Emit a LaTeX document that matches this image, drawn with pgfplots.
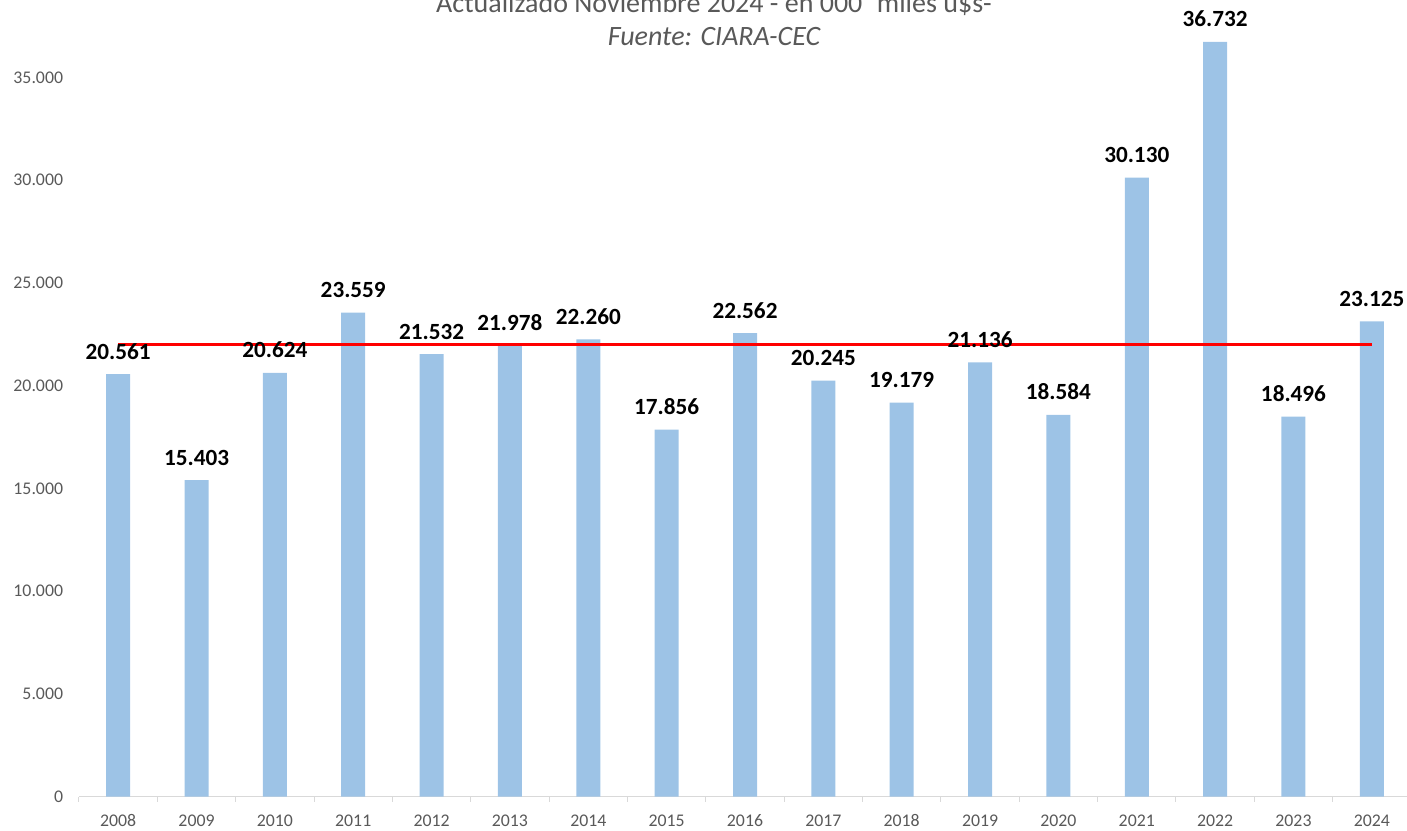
\documentclass[border=0pt]{standalone}
\usepackage{pgfplots}
\pgfplotsset{compat=1.18}
\usepackage{fontspec}
\setmainfont{Carlito}
\definecolor{barblue}{HTML}{9DC3E6}
\definecolor{axgray}{HTML}{D9D9D9}
\definecolor{txtgray}{HTML}{595959}

\pgfplotstableread{
x year value
0 2008 20561
1 2009 15403
2 2010 20624
3 2011 23559
4 2012 21532
5 2013 21978
6 2014 22260
7 2015 17856
8 2016 22562
9 2017 20245
10 2018 19179
11 2019 21136
12 2020 18584
13 2021 30130
14 2022 36732
15 2023 18496
16 2024 23125
}\exports

\begin{document}
\begin{tikzpicture}
\pgfkeys{/pgf/number format/.cd, assume math mode=true, 1000 sep={.}}
\begin{axis}[
  name=ax,
  scale only axis,
  width=666pt, height=398.25pt,
  xmin=-0.5, xmax=16.5, ymin=0, ymax=38777,
  ybar, bar width=12pt,
  axis x line*=bottom, axis y line*=left,
  x axis line style={draw=axgray, line width=0.5pt},
  y axis line style={draw=none},
  xtick={0,...,16},
  xticklabels={2008,2009,2010,2011,2012,2013,2014,2015,2016,2017,2018,2019,2020,2021,2022,2023,2024},
  major x tick style={draw=none},
  minor xtick={-0.5,0.5,...,16.5},
  minor x tick style={draw=axgray, line width=0.5pt},
  minor tick length=2.5pt,
  tick align=outside,
  ytick={0,5000,...,35000},
  major y tick style={draw=none},
  tick label style={font=\fontsize{8.9}{10}\selectfont, text=txtgray},
  xticklabel style={anchor=base, yshift=-10.5pt, inner sep=0pt},
  yticklabel style={anchor=east, inner sep=0pt, xshift=-3.5pt},
  scaled y ticks=false,
  clip=false,
]
\addplot[fill=barblue, draw=none, bar shift=0pt] table[x=x, y=value] {\exports};
\addplot[sharp plot, red, line width=1.5pt, mark=none] coordinates {(0,21998) (16,21998)};
\addplot[fill=none, draw=none, bar shift=0pt,
  nodes near coords,
  nodes near coords style={anchor=base, inner sep=0pt, yshift=7.5pt, text=black,
    font=\bfseries\fontsize{11.6}{13}\selectfont}]
  table[x=x, y=value] {\exports};
\end{axis}
\node[anchor=base, inner sep=0pt, text=txtgray, font=\fontsize{14}{16}\selectfont] at ([xshift=317.5pt, yshift=-6.5pt]ax.north west) {Actualizado Noviembre 2024 - en 000´ miles u\$s-};
\node[anchor=base, inner sep=0pt, text=txtgray, font=\itshape\fontsize{14}{16}\selectfont] at ([xshift=317.5pt, yshift=-23pt]ax.north west) {Fuente: CIARA-CEC};
\pgfresetboundingbox
\path[use as bounding box] ([xshift=-39.5pt, yshift=-16.75pt]ax.south west) rectangle ([xshift=664pt]ax.north west);
\end{tikzpicture}
\end{document}
